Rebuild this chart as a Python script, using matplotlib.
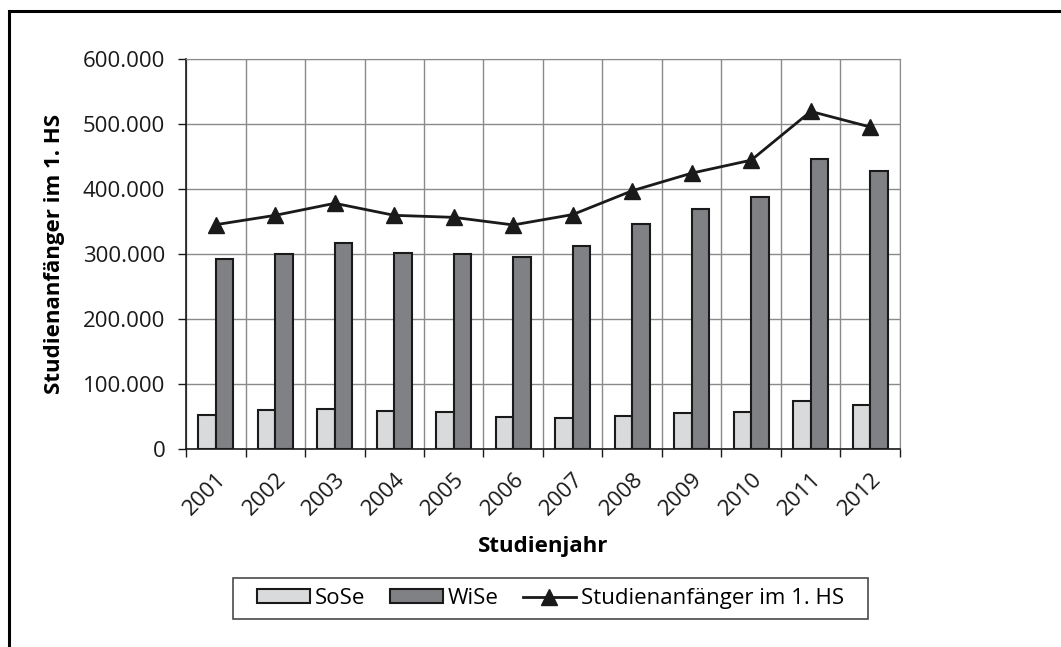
import matplotlib
matplotlib.use("Agg")
import matplotlib.pyplot as plt
import matplotlib.patches as patches
from matplotlib.ticker import FuncFormatter
import numpy as np

# Studienanfaenger pro Jahr (gelesen aus dem Bild)
years = ["2001", "2002", "2003", "2004", "2005", "2006",
         "2007", "2008", "2009", "2010", "2011", "2012"]
sose = [52300, 59500, 61000, 58500, 56400, 49700,
        47700, 51300, 55400, 57400, 73800, 67700]
wise = [292800, 300000, 317000, 301000, 300000, 295000,
        313000, 346000, 369000, 387000, 445600, 427700]
total = [345100, 359500, 378000, 359500, 356400, 344700,
         360700, 397300, 424400, 444400, 519400, 495400]

plt.rcParams["font.family"] = ["Open Sans", "DejaVu Sans"]

W, H = 1061, 647
fig = plt.figure(figsize=(W / 100, H / 100), dpi=100)
ax = fig.add_axes([186 / W, 1 - 449 / H, 714 / W, 390 / H])

x = np.arange(len(years))
bw = 0.29
bars_s = ax.bar(x - bw / 2, sose, bw, color="#d9dadc", edgecolor="#1a1a1a",
                linewidth=1.5, label="SoSe", zorder=3)
bars_w = ax.bar(x + bw / 2, wise, bw, color="#808185", edgecolor="#1a1a1a",
                linewidth=1.5, label="WiSe", zorder=3)
line, = ax.plot(x, total, color="#1a1a1a", linewidth=2, marker="^", markersize=12,
                label="Studienanfänger im 1. HS", zorder=4)

ax.set_xlim(-0.5, len(years) - 0.5)
ax.set_ylim(0, 600000)
ax.set_yticks(np.arange(0, 600001, 100000))
ax.yaxis.set_major_formatter(FuncFormatter(lambda v, p: f"{int(v):,}".replace(",", ".")))

ax.set_xticks(x)
ax.set_xticklabels(years, rotation=45, ha="right", rotation_mode="anchor")
ax.set_xticks(np.arange(-0.5, len(years), 1), minor=True)
ax.tick_params(axis="x", which="major", length=0, pad=14, labelsize=16, colors="#1a1a1a")
ax.tick_params(axis="x", which="minor", length=6, width=1, color="#1a1a1a")
ax.tick_params(axis="y", length=6, width=1, labelsize=16, pad=9, colors="#1a1a1a")

ax.grid(True, axis="y", which="major", color="#8a8a8a", linewidth=1, zorder=0)
ax.grid(True, axis="x", which="minor", color="#8a8a8a", linewidth=1, zorder=0)
ax.set_axisbelow(True)

for side in ["top", "right"]:
    ax.spines[side].set_color("#8a8a8a")
for side in ["left", "bottom"]:
    ax.spines[side].set_color("#1a1a1a")
    ax.spines[side].set_linewidth(1.2)

ax.set_xlabel("Studienjahr", fontsize=16, fontweight="bold")
ax.set_ylabel("Studienanfänger im 1. HS", fontsize=16, fontweight="bold")
ax.xaxis.label.set_va("center")
ax.yaxis.label.set_va("center")
ax.xaxis.set_label_coords(0.5, -0.249)
ax.yaxis.set_label_coords(-0.1835, 0.5)

# legend without frame, box drawn separately (wider side padding than matplotlib allows)
leg = fig.legend([bars_s, bars_w, line], ["SoSe", "WiSe", "Studienanfänger im 1. HS"],
                 loc="center", bbox_to_anchor=((233 + 868) / 2 / W, 1 - 598.5 / H),
                 ncol=3, fontsize=16, frameon=False,
                 handlelength=2.4, handleheight=0.6, handletextpad=0.22,
                 columnspacing=1.08, borderpad=0.0)
fig.patches.append(patches.Rectangle((233 / W, 1 - 619 / H), 635 / W, 41 / H,
                                     transform=fig.transFigure, fill=False,
                                     edgecolor="#4a4a4a", linewidth=1.2))

# outer frame (cropped at right and bottom)
fig.patches.append(patches.Rectangle((9 / W, -0.1), 1.2, 1 - 11 / H + 0.1,
                                     transform=fig.transFigure, fill=False,
                                     edgecolor="black", linewidth=2.2))

fig.savefig("out.png", dpi=100)
